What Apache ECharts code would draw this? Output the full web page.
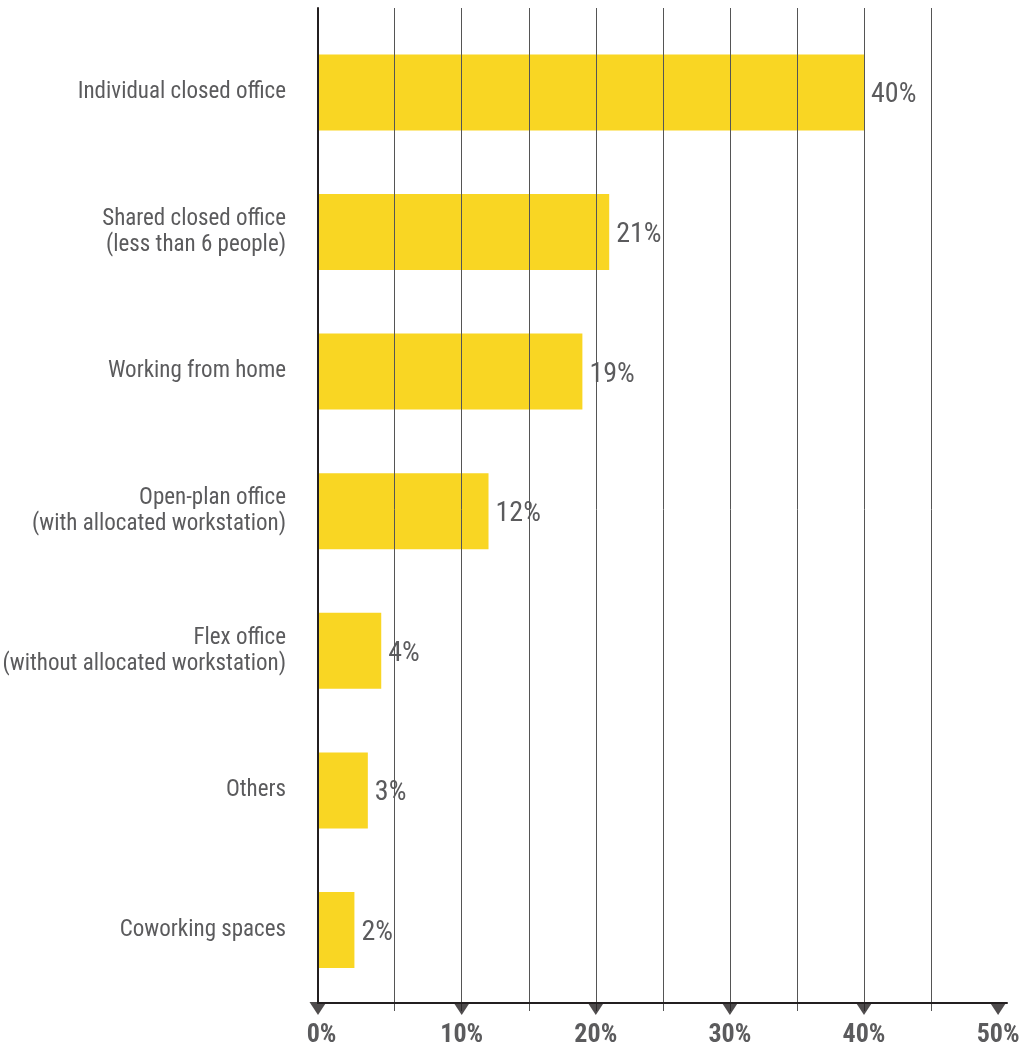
<!DOCTYPE html>
<html>
<head>
<meta charset="utf-8">
<script src="https://cdn.jsdelivr.net/npm/echarts@6/dist/echarts.min.js"></script>
<style>
  html, body { margin: 0; padding: 0; background: #ffffff; }
  #chart { width: 1028px; height: 1047px; }
</style>
</head>
<body>
<div id="chart"></div>
<script>
// Workspace types and the share of respondents for each
const categories = [
  'Individual closed office',
  'Shared closed office\n(less than 6 people)',
  'Working from home',
  'Open-plan office\n(with allocated workstation)',
  'Flex office\n(without allocated workstation)',
  'Others',
  'Coworking spaces'
];
const shares = [40, 21, 19, 12, 4, 3, 2];
const scaleTicks = [0, 10, 20, 30, 40, 50];

const FONT = "'Liberation Sans Narrow', 'Arial Narrow', 'Roboto Condensed', 'Liberation Sans', sans-serif";
const TEXT = '#5b5b5d';
const INK = '#231f20';
const GRID_LINE = '#555555';
const YELLOW = '#f9d623';

// Percent scale spans 0–50 %; the category axis line sits a little left of 0
const SCALE_LEFT = 327.6;
const SCALE_RIGHT = 29.9;
const AXIS_X = 318;
const pxPerUnit = (1028 - SCALE_RIGHT - SCALE_LEFT) / 50;
const axisOrigin = -(SCALE_LEFT - AXIS_X) / pxPerUnit;

const chart = echarts.init(document.getElementById('chart'), null, { renderer: 'canvas' });

chart.setOption({
  animation: false,
  backgroundColor: '#ffffff',
  grid: [
    // bars and category labels
    { left: AXIS_X, right: SCALE_RIGHT, top: 22.6, bottom: 47.2, outerBoundsMode: 'none', containLabel: false },
    // percent scale: vertical rules and tick labels
    { left: SCALE_LEFT, right: SCALE_RIGHT, top: 8, bottom: 36, outerBoundsMode: 'none', containLabel: false },
    // axis frame lines
    { left: AXIS_X, right: 21, top: 8, bottom: 44, outerBoundsMode: 'none', containLabel: false }
  ],
  xAxis: [
    {
      // bars run from the category axis line
      gridIndex: 0, type: 'value', min: axisOrigin, max: 50, startValue: axisOrigin,
      show: false
    },
    {
      gridIndex: 1, type: 'value', min: 0, max: 50, interval: 5, z: 10,
      axisLine: { show: false },
      axisTick: { show: false },
      splitLine: {
        show: true, showMinLine: false, showMaxLine: false,
        lineStyle: { color: GRID_LINE, width: 1 }
      },
      axisLabel: {
        margin: 11,
        fontFamily: FONT, fontSize: 26, fontWeight: 'bold', color: TEXT,
        formatter: v => (v % 10 !== 0 ? '' : (v === 0 ? '{o|0%}' : v + '%')),
        rich: {
          o: { fontFamily: FONT, fontSize: 26, fontWeight: 'bold', color: TEXT, padding: [0, 12, 0, 0] }
        }
      }
    },
    {
      gridIndex: 2, type: 'value', min: 0, max: 1, z: 11,
      axisLine: { show: true, onZero: false, lineStyle: { color: INK, width: 2 } },
      axisTick: { show: false }, axisLabel: { show: false }, splitLine: { show: false }
    }
  ],
  yAxis: [
    {
      gridIndex: 0, type: 'category', data: categories, inverse: true,
      axisLine: { show: false }, axisTick: { show: false },
      axisLabel: {
        margin: 32, align: 'right', padding: [5, 0, 0, 0],
        fontFamily: FONT, fontSize: 23, lineHeight: 26, color: TEXT
      }
    },
    { gridIndex: 1, type: 'value', min: 0, max: 1, show: false },
    {
      gridIndex: 2, type: 'value', min: 0, max: 1, z: 11,
      axisLine: { show: true, onZero: false, lineStyle: { color: INK, width: 2 } },
      axisTick: { show: false }, axisLabel: { show: false }, splitLine: { show: false }
    }
  ],
  series: [
    {
      type: 'bar', xAxisIndex: 0, yAxisIndex: 0,
      data: shares, barWidth: 76,
      itemStyle: { color: YELLOW },
      label: {
        show: true, position: 'right', distance: 7, offset: [0, 3],
        formatter: p => p.value + '%',
        fontFamily: FONT, fontSize: 28, color: TEXT
      },
      silent: true
    },
    {
      type: 'scatter', xAxisIndex: 1, yAxisIndex: 1, z: 12,
      data: scaleTicks.map(v => [v === 0 ? axisOrigin : v, 0]),
      symbol: 'triangle', symbolRotate: 180, symbolSize: [17, 13], symbolOffset: [0, -2.5],
      itemStyle: { color: INK },
      clip: false, silent: true
    }
  ]
});
</script>
</body>
</html>
